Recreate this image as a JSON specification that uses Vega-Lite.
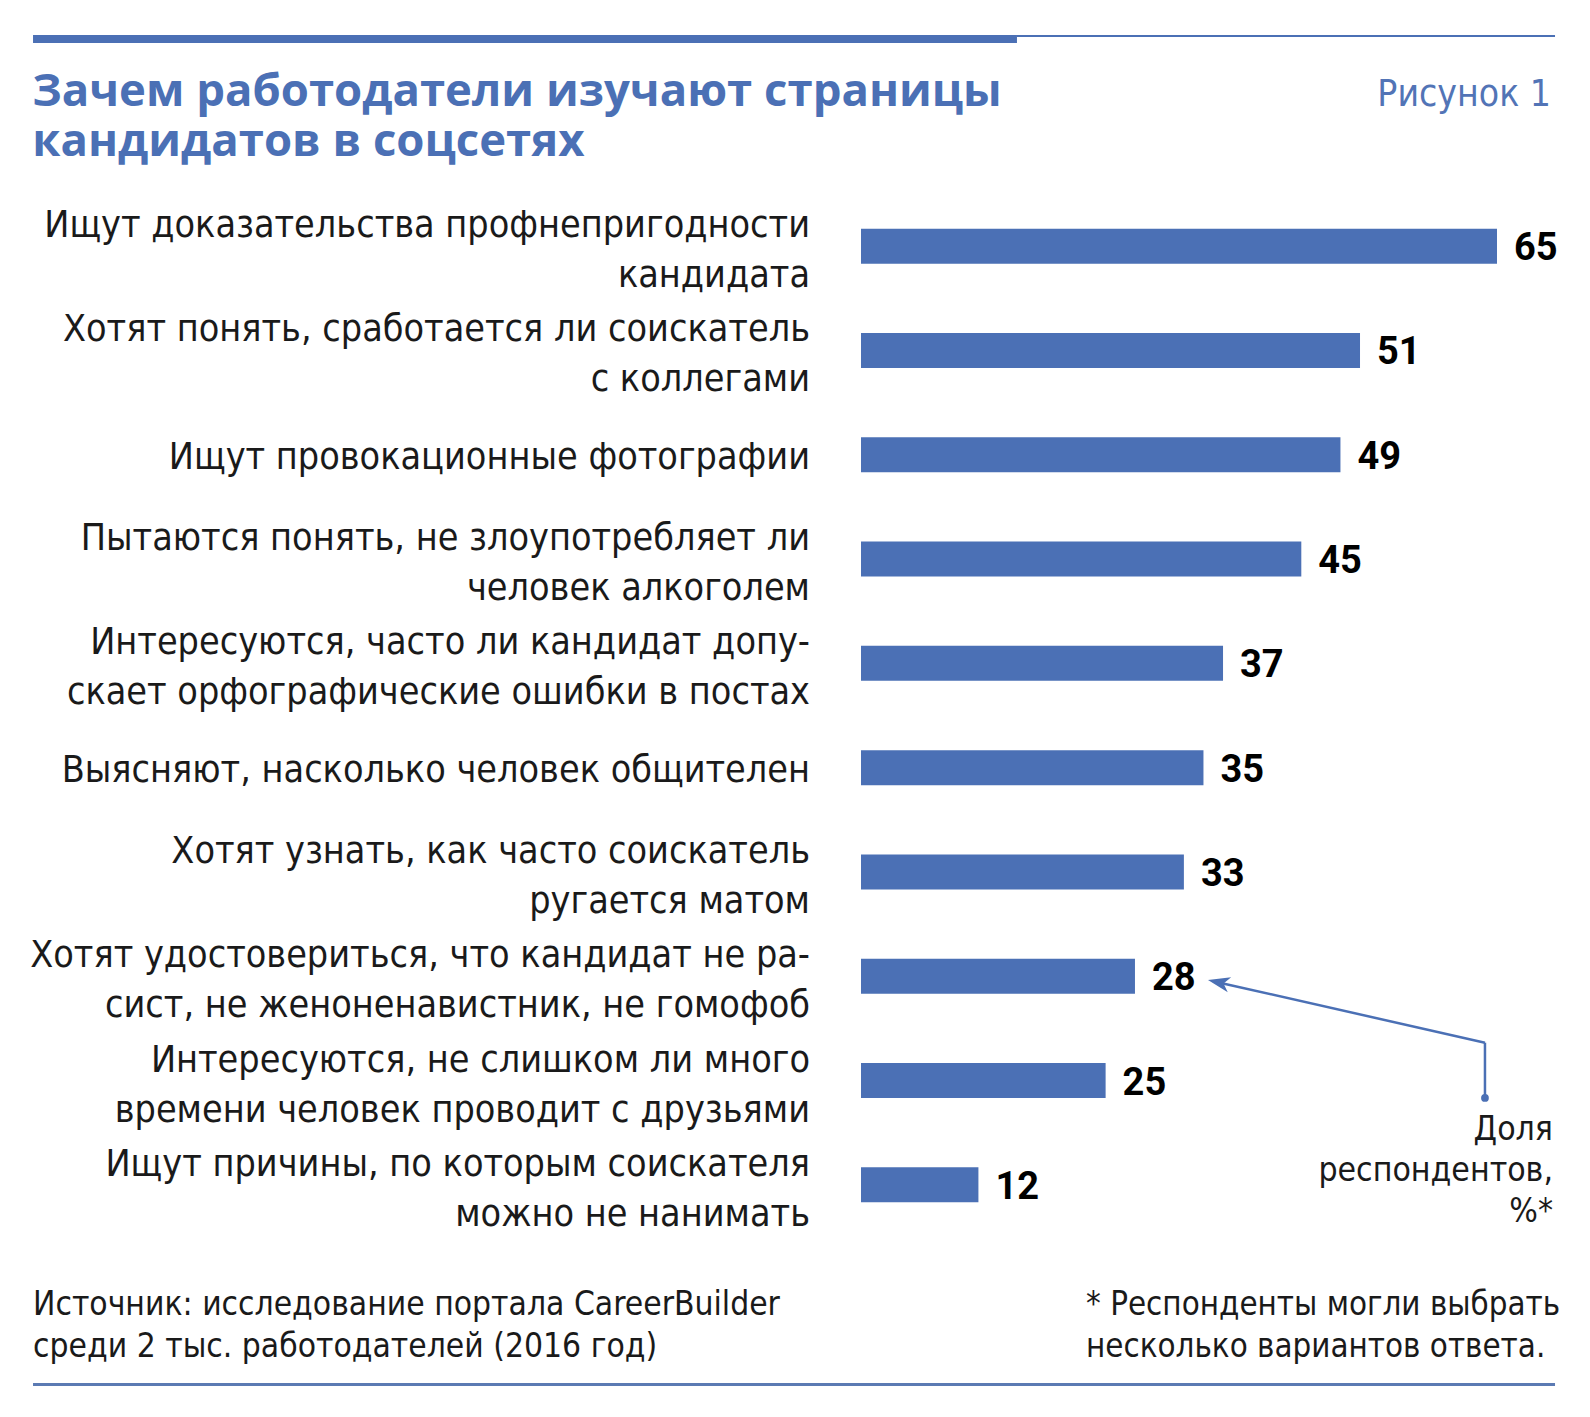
{
  "$schema": "https://vega.github.io/schema/vega-lite/v6.json",
  "autosize": {"type": "none"},
  "padding": {"left": 861, "top": 194, "right": 93, "bottom": 180},
  "width": 636,
  "height": 1043,
  "background": "white",
  "config": {"view": {"stroke": null}},
  "data": {
    "values": [
      {"reason": "Ищут доказательства профнепригодности кандидата", "lines": ["Ищут доказательства профнепригодности", "кандидата"], "pct": 65},
      {"reason": "Хотят понять, сработается ли соискатель с коллегами", "lines": ["Хотят понять, сработается ли соискатель", "с коллегами"], "pct": 51},
      {"reason": "Ищут провокационные фотографии", "lines": ["Ищут провокационные фотографии"], "pct": 49},
      {"reason": "Пытаются понять, не злоупотребляет ли человек алкоголем", "lines": ["Пытаются понять, не злоупотребляет ли", "человек алкоголем"], "pct": 45},
      {"reason": "Интересуются, часто ли кандидат допускает орфографические ошибки в постах", "lines": ["Интересуются, часто ли кандидат допу-", "скает орфографические ошибки в постах"], "pct": 37},
      {"reason": "Выясняют, насколько человек общителен", "lines": ["Выясняют, насколько человек общителен"], "pct": 35},
      {"reason": "Хотят узнать, как часто соискатель ругается матом", "lines": ["Хотят узнать, как часто соискатель", "ругается матом"], "pct": 33},
      {"reason": "Хотят удостовериться, что кандидат не расист, не женоненавистник, не гомофоб", "lines": ["Хотят удостовериться, что кандидат не ра-", "сист, не женоненавистник, не гомофоб"], "pct": 28},
      {"reason": "Интересуются, не слишком ли много времени человек проводит с друзьями", "lines": ["Интересуются, не слишком ли много", "времени человек проводит с друзьями"], "pct": 25},
      {"reason": "Ищут причины, по которым соискателя можно не нанимать", "lines": ["Ищут причины, по которым соискателя", "можно не нанимать"], "pct": 12}
    ]
  },
  "resolve": {"scale": {"y": "independent"}},
  "layer": [
    {
      "encoding": {
        "y": {"field": "reason", "type": "nominal", "sort": null, "axis": null}
      },
      "layer": [
        {
          "mark": {"type": "bar", "size": 35, "color": "#4b70b5"},
          "encoding": {
            "x": {"field": "pct", "type": "quantitative", "scale": {"domain": [0, 65], "nice": false, "zero": false}, "axis": null}
          }
        },
        {
          "mark": {"type": "text", "align": "left", "baseline": "middle", "dx": 17, "dy": 3, "font": "Roboto", "fontWeight": "bold", "fontSize": 38, "color": "#000000"},
          "encoding": {
            "x": {"field": "pct", "type": "quantitative", "scale": {"domain": [0, 65], "nice": false, "zero": false}, "axis": null},
            "text": {"field": "pct", "type": "quantitative"}
          }
        },
        {
          "transform": [{"filter": "length(datum.lines) > 1"}],
          "mark": {"type": "text", "align": "right", "baseline": "middle", "dx": -51, "dy": -20, "font": "DejaVu Sans Condensed", "fontSize": 37.4, "lineHeight": 50, "color": "#1a1a1a"},
          "encoding": {
            "x": {"datum": 0, "type": "quantitative", "scale": {"domain": [0, 65], "nice": false, "zero": false}, "axis": null},
            "text": {"field": "lines", "type": "nominal"}
          }
        },
        {
          "transform": [{"filter": "length(datum.lines) == 1"}],
          "mark": {"type": "text", "align": "right", "baseline": "middle", "dx": -51, "dy": 3, "font": "DejaVu Sans Condensed", "fontSize": 37.4, "lineHeight": 50, "color": "#1a1a1a"},
          "encoding": {
            "x": {"datum": 0, "type": "quantitative", "scale": {"domain": [0, 65], "nice": false, "zero": false}, "axis": null},
            "text": {"field": "lines", "type": "nominal"}
          }
        }
      ]
    },
    {
      "data": {"values": [{}]},
      "layer": [
        {
          "mark": {"type": "rule", "color": "#4b70b5", "strokeWidth": 8},
          "encoding": {
            "x": {"datum": -84.62, "type": "quantitative", "scale": {"domain": [0, 65], "nice": false, "zero": false}, "axis": null},
            "x2": {"datum": 15.94},
            "y": {"datum": -1.986, "type": "quantitative", "scale": {"domain": [-0.5, 9.5], "reverse": true, "nice": false, "zero": false}, "axis": null}
          }
        },
        {
          "mark": {"type": "rule", "color": "#4b70b5", "strokeWidth": 2},
          "encoding": {
            "x": {"datum": 15.94, "type": "quantitative", "scale": {"domain": [0, 65], "nice": false, "zero": false}, "axis": null},
            "x2": {"datum": 70.93},
            "y": {"datum": -2.015, "type": "quantitative", "scale": {"domain": [-0.5, 9.5], "reverse": true, "nice": false, "zero": false}, "axis": null}
          }
        },
        {
          "mark": {"type": "rule", "color": "#5b7ab3", "strokeWidth": 3},
          "encoding": {
            "x": {"datum": -84.62, "type": "quantitative", "scale": {"domain": [0, 65], "nice": false, "zero": false}, "axis": null},
            "x2": {"datum": 70.93},
            "y": {"datum": 10.914, "type": "quantitative", "scale": {"domain": [-0.5, 9.5], "reverse": true, "nice": false, "zero": false}, "axis": null}
          }
        },
        {
          "mark": {"type": "text", "align": "left", "baseline": "alphabetic", "font": "Open Sans", "fontWeight": "bold", "fontSize": 45.5, "lineHeight": 50, "color": "#4b70b5"},
          "encoding": {
            "x": {"datum": -84.7, "type": "quantitative", "scale": {"domain": [0, 65], "nice": false, "zero": false}, "axis": null},
            "y": {"datum": -1.3437, "type": "quantitative", "scale": {"domain": [-0.5, 9.5], "reverse": true, "nice": false, "zero": false}, "axis": null},
            "text": {"value": ["Зачем работодатели изучают страницы", "кандидатов в соцсетях"]}
          }
        },
        {
          "mark": {"type": "text", "align": "right", "baseline": "alphabetic", "font": "DejaVu Sans Condensed", "fontSize": 37, "color": "#5274b6"},
          "encoding": {
            "x": {"datum": 70.52, "type": "quantitative", "scale": {"domain": [0, 65], "nice": false, "zero": false}, "axis": null},
            "y": {"datum": -1.339, "type": "quantitative", "scale": {"domain": [-0.5, 9.5], "reverse": true, "nice": false, "zero": false}, "axis": null},
            "text": {"value": "Рисунок 1"}
          }
        },
        {
          "mark": {"type": "text", "align": "left", "baseline": "alphabetic", "font": "DejaVu Sans Condensed", "fontSize": 33.3, "lineHeight": 42, "color": "#1a1a1a"},
          "encoding": {
            "x": {"datum": -84.62, "type": "quantitative", "scale": {"domain": [0, 65], "nice": false, "zero": false}, "axis": null},
            "y": {"datum": 10.248, "type": "quantitative", "scale": {"domain": [-0.5, 9.5], "reverse": true, "nice": false, "zero": false}, "axis": null},
            "text": {"value": ["Источник: исследование портала CareerBuilder", "среди 2 тыс. работодателей (2016 год)"]}
          }
        },
        {
          "mark": {"type": "text", "align": "left", "baseline": "alphabetic", "font": "DejaVu Sans Condensed", "fontSize": 32.8, "lineHeight": 42, "color": "#1a1a1a"},
          "encoding": {
            "x": {"datum": 23.0, "type": "quantitative", "scale": {"domain": [0, 65], "nice": false, "zero": false}, "axis": null},
            "y": {"datum": 10.248, "type": "quantitative", "scale": {"domain": [-0.5, 9.5], "reverse": true, "nice": false, "zero": false}, "axis": null},
            "text": {"value": ["* Респонденты могли выбрать", "несколько вариантов ответа."]}
          }
        },
        {
          "mark": {"type": "text", "align": "right", "baseline": "alphabetic", "font": "DejaVu Sans Condensed", "fontSize": 33.5, "lineHeight": 41, "color": "#1a1a1a"},
          "encoding": {
            "x": {"datum": 70.72, "type": "quantitative", "scale": {"domain": [0, 65], "nice": false, "zero": false}, "axis": null},
            "y": {"datum": 8.57, "type": "quantitative", "scale": {"domain": [-0.5, 9.5], "reverse": true, "nice": false, "zero": false}, "axis": null},
            "text": {"value": ["Доля", "респондентов,", "%*"]}
          }
        },
        {
          "mark": {"type": "rule", "color": "#4b70b5", "strokeWidth": 2.5},
          "encoding": {
            "x": {"datum": 63.77, "type": "quantitative", "scale": {"domain": [0, 65], "nice": false, "zero": false}, "axis": null},
            "y": {"datum": 8.167, "type": "quantitative", "scale": {"domain": [-0.5, 9.5], "reverse": true, "nice": false, "zero": false}, "axis": null},
            "y2": {"datum": 7.637}
          }
        },
        {
          "mark": {"type": "rule", "color": "#4b70b5", "strokeWidth": 2.5},
          "encoding": {
            "x": {"datum": 63.77, "type": "quantitative", "scale": {"domain": [0, 65], "nice": false, "zero": false}, "axis": null},
            "x2": {"datum": 36.2},
            "y": {"datum": 7.637, "type": "quantitative", "scale": {"domain": [-0.5, 9.5], "reverse": true, "nice": false, "zero": false}, "axis": null},
            "y2": {"datum": 7.052}
          }
        },
        {
          "mark": {"type": "point", "filled": true, "color": "#4b70b5", "size": 60, "opacity": 1},
          "encoding": {
            "x": {"datum": 63.77, "type": "quantitative", "scale": {"domain": [0, 65], "nice": false, "zero": false}, "axis": null},
            "y": {"datum": 8.167, "type": "quantitative", "scale": {"domain": [-0.5, 9.5], "reverse": true, "nice": false, "zero": false}, "axis": null}
          }
        },
        {
          "mark": {"type": "point", "filled": true, "color": "#4b70b5", "size": 484, "opacity": 1, "shape": "M -1 0 L 1 -0.7 L 0.45 0 L 1 0.7 Z", "angle": 12.8},
          "encoding": {
            "x": {"datum": 36.56, "type": "quantitative", "scale": {"domain": [0, 65], "nice": false, "zero": false}, "axis": null},
            "y": {"datum": 7.059, "type": "quantitative", "scale": {"domain": [-0.5, 9.5], "reverse": true, "nice": false, "zero": false}, "axis": null}
          }
        }
      ]
    }
  ]
}
